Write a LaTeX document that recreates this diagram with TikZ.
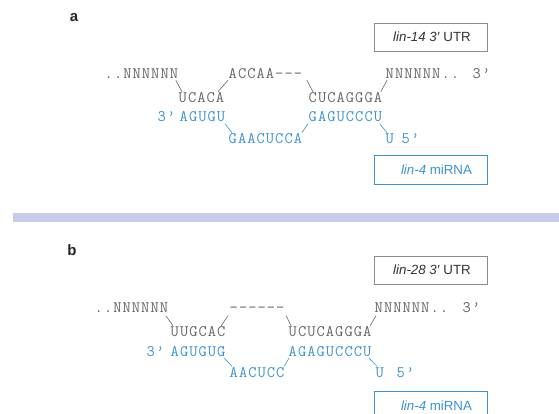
\documentclass[tikz,border=0pt]{standalone}
\usepackage{fontspec}
\setmainfont{Liberation Sans}
\definecolor{seqgrey}{HTML}{666666}
\definecolor{seqblue}{HTML}{3C93CF}
\definecolor{boxgrey}{HTML}{8C8C8C}
\definecolor{barblue}{HTML}{C7CDE8}
\definecolor{labgrey}{HTML}{333333}
\newlength{\seqpitch}
\setlength{\seqpitch}{9.3pt}
\def\seqloop#1{\ifx#1\relax\else\makebox[\seqpitch][c]{#1}\expandafter\seqloop\fi}
\newcommand{\sq}[1]{\seqloop#1\relax}
\begin{document}
\begin{tikzpicture}[x=1pt,y=-1pt,
  seq/.style={anchor=base west, inner sep=0pt, font=\ttfamily\fontsize{16}{17}\selectfont, text height=9.5pt, text depth=0pt},
  gseq/.style={seq, text=seqgrey},
  bseq/.style={seq, text=seqblue},
  gline/.style={draw=seqgrey, line width=0.6pt},
  bline/.style={draw=seqblue, line width=0.6pt},
  gbox/.style={draw=boxgrey, line width=0.7pt, minimum width=113pt, minimum height=28pt, inner sep=0pt, font=\fontsize{13.3}{14}\selectfont, text=labgrey},
  bbox/.style={gbox, draw=seqblue, text=seqblue},
  panel/.style={font=\bfseries\fontsize{15}{15}\selectfont, inner sep=0pt, text=black!85}]
\useasboundingbox (0,0) rectangle (559,414);
\fill[white] (0,0) rectangle (559,414);
% panel labels
\node[panel] (la) at (74,18) {a};
\node[panel] (lb) at (72,250) {b};
% separator bar
\fill[barblue] (13,213) rectangle (559,222);
% boxes
\node[gbox] (utra) at (430.5,37) {\hspace*{3pt}\textit{lin-14 3′} UTR};
\node[bbox, minimum height=29pt] (mira) at (430.5,169.5) {\hspace*{12pt}\textit{lin-4} miRNA};
\node[gbox] (utrb) at (430.5,270) {\hspace*{3pt}\textit{lin-28 3′} UTR};
\node[bbox, minimum height=29pt] (mirb) at (430.5,405.5) {\hspace*{12pt}\textit{lin-4} miRNA};
% ---------- panel a ----------
\node[gseq] (a1l) at (104,78.5) {\sq{..NNNNNN}};
\node[gseq] (a1m) at (228,78.5) {\sq{ACCAA---}};
\node[gseq] (a1r) at (385,78.5) {\sq{NNNNNN..}};
\node[gseq] (a1p) at (472,78.5) {\sq{3’}};
\node[gseq] (a2l) at (178,102.5) {\sq{UCACA}};
\node[gseq] (a2r) at (308,102.5) {\sq{CUCAGGGA}};
\node[bseq] (a3p) at (157,122) {\sq{3’}};
\node[bseq] (a3l) at (179,122) {\sq{AGUGU}};
\node[bseq] (a3r) at (308,122) {\sq{GAGUCCCU}};
\node[bseq] (a4m) at (228,143.5) {\sq{GAACUCCA}};
\node[bseq] (a4u) at (385,143.5) {\sq{U}};
\node[bseq] (a4p) at (401,143.5) {\sq{5’}};
\draw[gline] ([xshift=-3pt,yshift=-1.5pt]a1l.south east) -- ([xshift=4pt,yshift=1pt]a2l.north west);
\draw[gline] ([xshift=-7pt,yshift=1pt]a2l.north east) -- ([xshift=0pt,yshift=-1.5pt]a1m.south west);
\draw[gline] ([xshift=4pt,yshift=-1.5pt]a1m.south east) -- ([xshift=5pt,yshift=1pt]a2r.north west);
\draw[gline] ([xshift=-2pt,yshift=1pt]a2r.north east) -- ([xshift=2pt,yshift=-1.5pt]a1r.south west);
\draw[bline] ([xshift=-1pt,yshift=-1.5pt]a3l.south east) -- ([xshift=4pt,yshift=1pt]a4m.north west);
\draw[bline] ([xshift=-1pt,yshift=1pt]a4m.north east) -- ([xshift=0pt,yshift=-1.5pt]a3r.south west);
\draw[bline] ([xshift=-3pt,yshift=-1.5pt]a3r.south east) -- ([xshift=2pt,yshift=1pt]a4u.north west);
% ---------- panel b ----------
\node[gseq] (b1l) at (94,312.5) {\sq{..NNNNNN}};
\node[gseq] (b1m) at (229,312.5) {\sq{------}};
\node[gseq] (b1r) at (374,312.5) {\sq{NNNNNN..}};
\node[gseq] (b1p) at (462,312.5) {\sq{3’}};
\node[gseq] (b2l) at (170,336.5) {\sq{UUGCAC}};
\node[gseq] (b2r) at (288,336.5) {\sq{UCUCAGGGA}};
\node[bseq] (b3p) at (146,356.5) {\sq{3’}};
\node[bseq] (b3l) at (170,356.5) {\sq{AGUGUG}};
\node[bseq] (b3r) at (288,356.5) {\sq{AGAGUCCCU}};
\node[bseq] (b4m) at (229,377) {\sq{AACUCC}};
\node[bseq] (b4u) at (375,377) {\sq{U}};
\node[bseq] (b4p) at (396,377) {\sq{5’}};
\draw[gline] ([xshift=-3pt,yshift=-3pt]b1l.south east) -- ([xshift=3pt,yshift=1pt]b2l.north west);
\draw[gline] ([xshift=-5pt,yshift=1pt]b2l.north east) -- ([xshift=-1pt,yshift=-3pt]b1m.south west);
\draw[gline] ([xshift=1pt,yshift=-3pt]b1m.south east) -- ([xshift=3pt,yshift=1pt]b2r.north west);
\draw[gline] ([xshift=-2pt,yshift=1pt]b2r.north east) -- ([xshift=2pt,yshift=-3pt]b1r.south west);
\draw[bline] ([xshift=-2pt,yshift=-1.5pt]b3l.south east) -- ([xshift=3pt,yshift=1pt]b4m.north west);
\draw[bline] ([xshift=-1pt,yshift=1pt]b4m.north east) -- ([xshift=1pt,yshift=-1.5pt]b3r.south west);
\draw[bline] ([xshift=-3pt,yshift=-1.5pt]b3r.south east) -- ([xshift=2pt,yshift=1pt]b4u.north west);
\end{tikzpicture}
\end{document}
